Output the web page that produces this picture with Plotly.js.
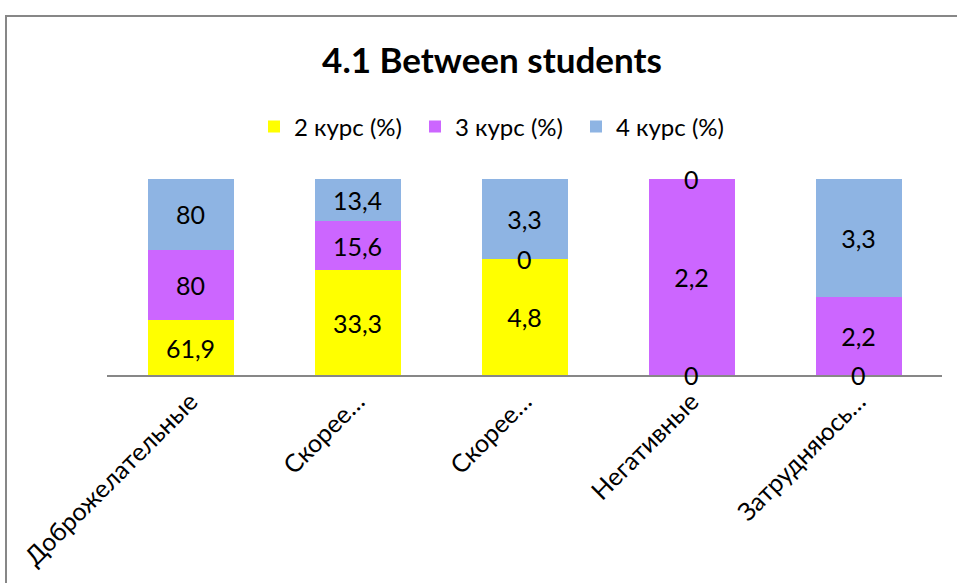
<!DOCTYPE html>
<html>
<head>
<meta charset="utf-8">
<script src="https://cdn.plot.ly/plotly-3.0.1.min.js"></script>
<style>
  html, body { margin: 0; padding: 0; background: #fff; overflow: hidden; }
  #wrap { position: relative; width: 957px; height: 583px; }
  #chart { position: absolute; left: 0; top: 0; width: 957px; height: 583px; }
  #frame { position: absolute; left: 5px; top: 15px; width: 1000px; height: 1000px;
           border: 2px solid #878787; box-sizing: border-box; pointer-events: none; }
</style>
</head>
<body>
<div id="wrap">
  <div id="chart"></div>
  <div id="frame"></div>
</div>
<script>
const categories = ['Доброжелательные', 'Скорее…', 'Скорее…', 'Негативные', 'Затрудняюсь…'];
const seriesNames = ['2 курс (%)', '3 курс (%)', '4 курс (%)'];
const course2 = [61.9, 33.3, 4.8, 0, 0];
const course3 = [80, 15.6, 0, 2.2, 2.2];
const course4 = [80, 13.4, 3.3, 0, 3.3];
const colors = ['#FFFF00', '#CC66FF', '#8EB4E3'];

const FONT = 'Lato, "Open Sans", sans-serif';
const series = [course2, course3, course4];
const xs = categories.map((_, i) => i);
const fmt = v => String(v).replace('.', ',');

const traces = series.map((vals, s) => ({
  type: 'bar',
  name: seriesNames[s],
  x: xs,
  y: vals,
  text: vals.map(v => v === 0 ? '' : fmt(v)),
  textposition: 'inside',
  insidetextanchor: 'middle',
  textangle: 0,
  constraintext: 'none',
  textfont: {family: FONT, size: 25, color: '#000'},
  marker: {color: colors[s], line: {width: 0}},
  hoverinfo: 'skip'
}));

// labels for zero-valued segments, placed at their stacked (percent) position
const annotations = [];
xs.forEach(i => {
  const total = series.reduce((a, sv) => a + sv[i], 0);
  let cum = 0;
  series.forEach((sv, s) => {
    const pct = total ? sv[i] / total * 100 : 0;
    if (sv[i] === 0) {
      annotations.push({
        x: i, y: cum, xref: 'x', yref: 'y', text: fmt(sv[i]), showarrow: false,
        font: {family: FONT, size: 25, color: '#000'}, xanchor: 'center', yanchor: 'middle'
      });
    }
    cum += pct;
  });
});

const layout = {
  width: 957, height: 583,
  margin: {l: 107, r: 15, t: 179, b: 208},
  paper_bgcolor: '#fff', plot_bgcolor: '#fff',
  barmode: 'stack',
  barnorm: 'percent',
  bargap: 0.485,
  showlegend: true,
  title: {
    text: '<b>4.1 Between students</b>',
    font: {family: FONT, size: 35, color: '#000'},
    xref: 'container', yref: 'container',
    x: 492 / 957, xanchor: 'center',
    y: 1 - 61 / 583, yanchor: 'middle'
  },
  legend: {
    orientation: 'h',
    xref: 'container', yref: 'container',
    x: 254 / 957, xanchor: 'left',
    y: 1 - 127 / 583, yanchor: 'middle',
    font: {family: FONT, size: 24, color: '#000'},
    itemclick: false, itemdoubleclick: false,
    traceorder: 'normal',
    entrywidth: 116, entrywidthmode: 'pixels',
    itemwidth: 30
  },
  xaxis: {
    tickvals: xs,
    ticktext: categories,
    tickangle: -45,
    tickfont: {family: FONT, size: 25, color: '#000'},
    showline: true, linecolor: '#878787', linewidth: 2,
    ticks: '', showgrid: false, zeroline: false,
    range: [-0.5, 4.5]
  },
  yaxis: {
    range: [0, 100],
    visible: false,
    showgrid: false, zeroline: false
  },
  annotations: annotations
};

Plotly.newPlot('chart', traces, layout, {displayModeBar: false, staticPlot: true});
</script>
</body>
</html>
